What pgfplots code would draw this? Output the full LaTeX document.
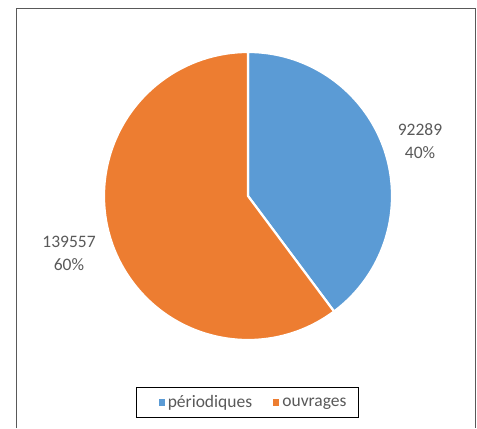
\documentclass[border=0pt]{standalone}
\usepackage{pgfplots}
\usepackage{pgfplotstable}
\usepackage{fontspec}
\setmainfont{Carlito}
\pgfplotsset{compat=1.18}
\definecolor{cblue}{HTML}{5B9BD5}
\definecolor{corange}{HTML}{ED7D31}
\definecolor{tgray}{HTML}{595959}
\pgfplotstableread{
label value
periodiques 92289
ouvrages 139557
}\piedata
\begin{document}
\begin{tikzpicture}
\pgfplotstablegetelem{0}{value}\of\piedata \let\va\pgfplotsretval
\pgfplotstablegetelem{1}{value}\of\piedata \let\vb\pgfplotsretval
\begingroup
\pgfkeys{/pgf/fpu=true,/pgf/fpu/output format=fixed}
\pgfmathparse{90-360*\va/(\va+\vb)}\xdef\endA{\pgfmathresult}
\endgroup
\begin{axis}[
  scale only axis, width=477bp, height=428bp,
  xmin=0, xmax=477, ymin=0, ymax=428,
  enlargelimits=false, hide axis, clip=false,
  legend columns=2,
  legend style={at={(axis cs:247.5,25.5)}, anchor=center, draw=black, line width=1.2pt,
    font=\fontsize{17.5bp}{21bp}\selectfont, text=tgray, inner xsep=9bp, inner ysep=5bp,
    nodes={inner sep=3bp}},
]
\path (axis cs:0,0) rectangle (axis cs:477,428);
\draw[tgray, line width=1bp] (axis cs:16,0) -- (axis cs:16,419) -- (axis cs:475.5,419) -- (axis cs:475.5,0);
\filldraw[fill=cblue, draw=white, line width=2.2bp, line join=round]
  (axis cs:248,232) -- ++(90:144bp) arc[start angle=90, end angle=\endA, radius=144bp] -- cycle;
\filldraw[fill=corange, draw=white, line width=2.2bp, line join=round]
  (axis cs:248,232) -- ++(\endA:144bp) arc[start angle=\endA, end angle=-270, radius=144bp] -- cycle;
\node[align=center, text=tgray, font=\fontsize{17.5bp}{23bp}\selectfont] at (axis cs:420,287) {92289\\40\%};
\node[align=center, text=tgray, font=\fontsize{17.5bp}{23bp}\selectfont] at (axis cs:69,175) {139557\\60\%};
\addlegendimage{legend image code/.code={\path (-13bp,0) (5bp,0); \fill[cblue] (0,-2.5bp) rectangle (5bp,2.5bp);}}
\addlegendentry{périodiques}
\addlegendimage{legend image code/.code={\path (-18bp,0) (5bp,0); \fill[corange] (0,-2.5bp) rectangle (5bp,2.5bp);}}
\addlegendentry{ouvrages}
\end{axis}
\end{tikzpicture}
\end{document}
